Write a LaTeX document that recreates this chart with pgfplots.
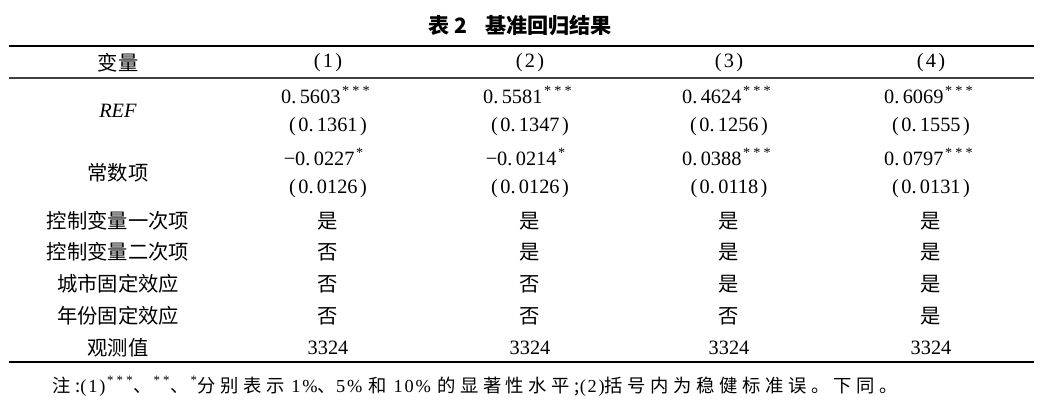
\documentclass[border=0pt]{standalone}
\usepackage{pgfplots}
\pgfplotsset{compat=1.18}
\usepackage{fontspec}
\setmainfont{Liberation Serif}
\newfontfamily\cjk{Noto Sans CJK SC}
\newfontfamily\cjkn[LetterSpace=25]{Noto Sans CJK SC}
\newfontfamily\latn[LetterSpace=10]{Liberation Serif}
\newcommand{\st}[1]{\textsuperscript{\kern0.8bp#1}}
\newcommand{\pa}[1]{(\kern1.2bp#1\kern1.2bp)}
\newcommand{\sss}{*\kern1.6bp*\kern1.6bp*}
\begin{document}
\begin{tikzpicture}
\begin{axis}[hide axis, scale only axis, width=525bp, height=208bp,
  xmin=0, xmax=1050, ymin=0, ymax=416, y dir=reverse, clip=false]
\addplot[draw=none, forget plot] coordinates {(0,0) (1050,416)};
\path (rel axis cs:0,0) (rel axis cs:1,1);
\tikzset{every node/.style={font=\fontsize{10.2}{12}\selectfont, inner sep=0pt, anchor=center}}
% title
\node[font=\fontsize{10.6}{12}\selectfont] at (axis cs:520,26) {\cjk\bfseries 表 2\hspace{9bp}基准回归结果};
% rules
\draw[line width=1.1bp] (axis cs:9,46) -- (axis cs:1034,46);
\draw[line width=0.7bp, black!75] (axis cs:9,78) -- (axis cs:1034,78);
\draw[line width=1.1bp] (axis cs:9,362) -- (axis cs:1034,362);
% header
\node at (axis cs:118,63) {\cjk 变量};
\node at (axis cs:328,63) {\pa{1}};
\node at (axis cs:530,63) {\pa{2}};
\node at (axis cs:729,63) {\pa{3}};
\node at (axis cs:931,63) {\pa{4}};
% REF
\node at (axis cs:118,111) {\textit{REF}};
\node at (axis cs:326,95) {0.\,5603\st{\sss}};
\node at (axis cs:528,95) {0.\,5581\st{\sss}};
\node at (axis cs:727,95) {0.\,4624\st{\sss}};
\node at (axis cs:929,95) {0.\,6069\st{\sss}};
\node at (axis cs:328,127) {\pa{0.\,1361}};
\node at (axis cs:530,127) {\pa{0.\,1347}};
\node at (axis cs:729,127) {\pa{0.\,1256}};
\node at (axis cs:931,127) {\pa{0.\,1555}};
% constant
\node at (axis cs:118,173) {\cjk 常数项};
\node at (axis cs:324,157) {−0.\,0227\st{*}};
\node at (axis cs:526,157) {−0.\,0214\st{*}};
\node at (axis cs:727,157) {0.\,0388\st{\sss}};
\node at (axis cs:929,157) {0.\,0797\st{\sss}};
\node at (axis cs:328,189) {\pa{0.\,0126}};
\node at (axis cs:530,189) {\pa{0.\,0126}};
\node at (axis cs:729,189) {\pa{0.\,0118}};
\node at (axis cs:931,189) {\pa{0.\,0131}};
% yes/no rows
\node at (axis cs:118,221) {\cjk 控制变量一次项};
\node at (axis cs:328,221) {\cjk 是};
\node at (axis cs:530,221) {\cjk 是};
\node at (axis cs:729,221) {\cjk 是};
\node at (axis cs:931,221) {\cjk 是};
\node at (axis cs:118,252) {\cjk 控制变量二次项};
\node at (axis cs:328,252) {\cjk 否};
\node at (axis cs:530,252) {\cjk 是};
\node at (axis cs:729,252) {\cjk 是};
\node at (axis cs:931,252) {\cjk 是};
\node at (axis cs:118,284) {\cjk 城市固定效应};
\node at (axis cs:328,284) {\cjk 否};
\node at (axis cs:530,284) {\cjk 否};
\node at (axis cs:729,284) {\cjk 是};
\node at (axis cs:931,284) {\cjk 是};
\node at (axis cs:118,316) {\cjk 年份固定效应};
\node at (axis cs:328,316) {\cjk 否};
\node at (axis cs:530,316) {\cjk 否};
\node at (axis cs:729,316) {\cjk 否};
\node at (axis cs:931,316) {\cjk 是};
\node at (axis cs:118,348) {\cjk 观测值};
\node at (axis cs:328,348) {3324};
\node at (axis cs:530,348) {3324};
\node at (axis cs:729,348) {3324};
\node at (axis cs:931,348) {3324};
% note
\node[anchor=west, font=\fontsize{9.2}{11}\selectfont] at (axis cs:52,386) {\latn{\cjkn 注:}(1)\st{\sss}{\cjkn 、}\st{*\kern1.6bp*}{\cjkn 、}\st{*}{\cjkn 分别表示} 1\%{\cjkn 、}5\% {\cjkn 和} 10\% {\cjkn 的显著性水平;}(2){\cjkn 括号内为稳健标准误。下同。}};
\end{axis}
\end{tikzpicture}
\end{document}
